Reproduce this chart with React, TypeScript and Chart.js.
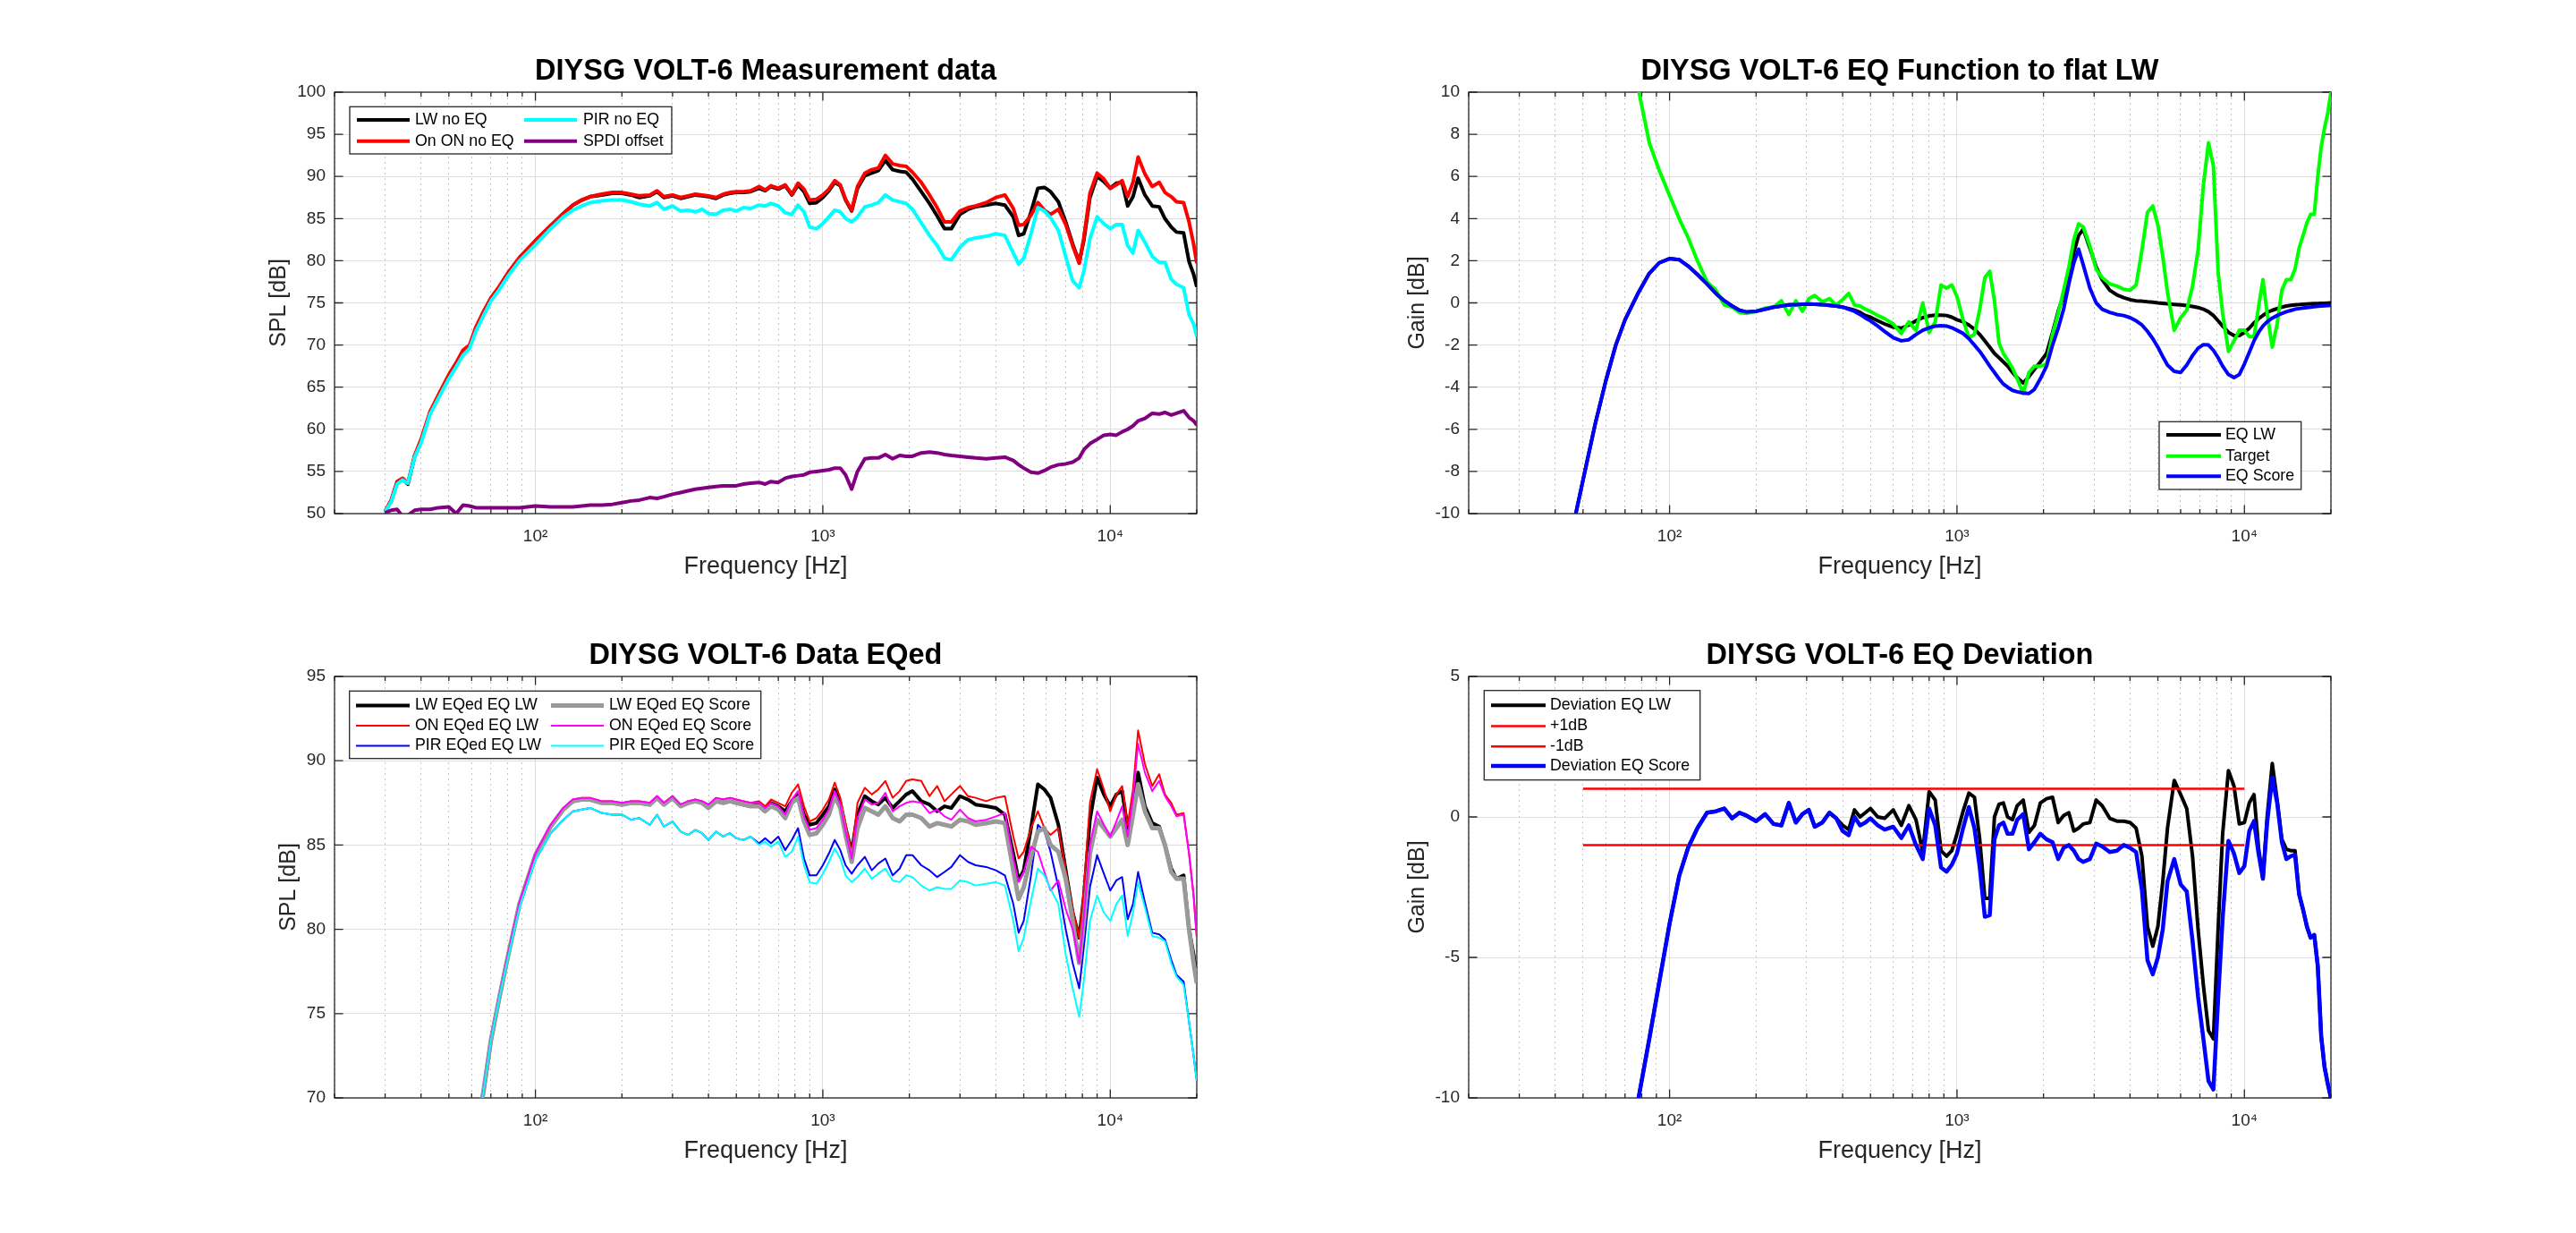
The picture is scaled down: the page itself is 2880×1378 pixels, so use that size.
import React, { useEffect, useRef } from 'react';
import { Chart, registerables } from 'chart.js';

Chart.register(...registerables);

const FONT = "'Liberation Sans', Arial, Helvetica, sans-serif";
const AXIS_COLOR = '#262626';
const GRID_MAJOR = '#dedede';
const GRID_MINOR = '#c4c4c4';

// ---------- frequency grids ----------
const FREQ_A = [
  30, 31.5, 33, 34.5, 36, 38, 40, 43, 46, 50, 53, 56, 59, 62,
  66, 70, 75, 80, 88, 100,
  113, 125, 135, 145, 155, 170, 185, 200,
  215, 230, 250, 265, 280, 300, 320, 340, 360, 380, 400,
  425, 450, 475, 500, 530, 560, 600, 630, 660, 700,
  740, 780, 820, 860, 900, 950, 1000,
  1050, 1100, 1150, 1200, 1260, 1320, 1400, 1480, 1560, 1650,
  1750, 1850, 1950, 2050, 2200, 2350, 2500, 2650, 2800, 3000,
  3200, 3400, 3700, 4000, 4300, 4600, 4800, 5000,
  5300, 5600, 5900, 6200, 6600, 7000, 7400, 7800, 8100, 8500,
  9000, 9500, 10000, 10500, 11000, 11500, 12000, 12500, 13200, 14000,
  14800, 15500, 16300, 17000, 18000, 18800, 19500, 20000,
];

const FREQ_B = [
  45, 50, 55, 60, 65, 70, 78, 85, 92, 100,
  108, 116, 125, 135, 145, 155, 165, 175, 185, 200,
  215, 230, 245, 260, 275, 290, 305, 320, 340, 360,
  380, 400, 420, 440, 460, 480, 500, 530, 560, 600,
  640, 680, 720, 760, 800, 840, 880, 920, 960, 1000,
  1050, 1100, 1150, 1200, 1250, 1300, 1350, 1400, 1450, 1500,
  1560, 1620, 1700, 1780, 1860, 1950, 2050, 2150, 2250, 2350,
  2450, 2550, 2650, 2750, 2900, 3050, 3200, 3400, 3600, 3800,
  4000, 4200, 4400, 4600, 4800, 5000, 5200, 5400, 5700, 6000,
  6300, 6600, 6900, 7200, 7500, 7800, 8100, 8400, 8800, 9200,
  9600, 10000, 10400, 10800, 11200, 11600, 12000, 12500, 13000, 13500,
  14000, 14500, 15000, 15500, 16000, 16500, 17000, 17500, 18000, 18500,
  19000, 19500, 20000,
];

const LIMIT_FREQ = [50, 10000];

// ---------- plot 1: measurement data ----------
const LW_NO_EQ = [
  50.2, 51.5, 53.6, 54.1, 53.5, 56.8, 58.6, 61.9, 63.9, 66.3, 67.6, 69.2, 69.8, 71.9,
  73.8, 75.5, 76.9, 78.4, 80.3, 82.3,
  84.1, 85.6, 86.6, 87.2, 87.6, 87.8, 88.0, 88.0,
  87.8, 87.5, 87.7, 88.2, 87.5, 87.7, 87.4, 87.6, 87.8, 87.7, 87.6,
  87.4, 87.8, 88.0, 88.1, 88.1, 88.2, 88.6, 88.3, 88.8, 88.5,
  88.9, 87.8, 89.0, 88.2, 86.8, 86.9, 87.5,
  88.3, 89.3, 88.9, 87.2, 85.9, 88.6, 90.1, 90.4, 90.7, 91.9,
  90.8, 90.6, 90.5, 89.7, 88.2, 86.8, 85.3, 83.8, 83.8, 85.5,
  86.1, 86.4, 86.6, 86.8, 86.6, 85.2, 83.0, 83.2,
  85.8, 88.6, 88.7, 88.2, 87.0, 84.6, 82.0, 79.8, 82.5, 87.5,
  90.0, 89.4, 88.6, 89.2, 89.3, 86.5, 87.6, 89.8, 87.8, 86.5,
  86.4, 85.0, 84.0, 83.4, 83.3, 79.9, 78.4, 76.9,
];
const ON_NO_EQ = [
  50.3, 51.6, 53.8, 54.2, 53.6, 56.9, 58.8, 62.1, 64.1, 66.5, 67.9, 69.4, 70.0, 72.1,
  74.0, 75.6, 77.0, 78.5, 80.4, 82.4,
  84.2, 85.6, 86.6, 87.2, 87.6, 87.9, 88.1, 88.1,
  87.9, 87.7, 87.8, 88.3, 87.6, 87.8, 87.5, 87.7, 87.9, 87.8, 87.7,
  87.5, 87.9, 88.1, 88.2, 88.2, 88.3, 88.8, 88.4, 88.9, 88.6,
  89.0, 87.9, 89.2, 88.5, 87.2, 87.3, 87.8,
  88.5, 89.5, 89.0, 87.3, 86.0, 88.8, 90.4, 90.8, 91.0, 92.5,
  91.5, 91.3, 91.2, 90.5, 89.3, 87.8, 86.3, 84.6, 84.6, 85.9,
  86.3, 86.5, 86.9, 87.5, 87.8, 86.2, 84.2, 84.3,
  85.4, 86.9, 86.0, 85.5, 86.1, 84.3, 81.8, 79.7, 82.8, 88.0,
  90.4, 89.7, 88.6, 89.0, 89.5, 87.6, 89.3, 92.3, 90.3, 88.8,
  89.3, 88.1, 87.6, 87.0, 86.9, 84.6, 82.0, 79.7,
];
const PIR_NO_EQ = [
  50.2, 51.4, 53.5, 54.0, 53.6, 56.7, 58.4, 61.8, 63.7, 66.0, 67.4, 68.8, 69.6, 71.6,
  73.5, 75.2, 76.6, 78.1, 80.0, 81.9,
  83.8, 85.2, 86.0, 86.5, 86.9, 87.1, 87.2, 87.2,
  87.0, 86.7, 86.5, 86.9, 86.1, 86.5, 85.9, 86.0, 85.8, 86.1, 85.6,
  85.5, 86.0, 86.1, 85.9, 86.3, 86.2, 86.6, 86.5, 86.8, 86.5,
  85.7, 85.5, 86.6, 85.8, 84.0, 83.8, 84.4,
  85.2, 86.0, 85.8, 85.0, 84.6, 85.2, 86.4, 86.6, 86.9, 87.8,
  87.2, 87.0, 86.8, 86.1, 84.5, 83.0, 81.8, 80.3, 80.1, 81.6,
  82.5, 82.7, 82.9, 83.2, 83.0, 80.9, 79.6, 80.3,
  83.2, 86.3, 85.9, 85.1, 83.6, 80.5, 77.6, 76.8, 78.8, 82.6,
  85.2, 84.4, 83.8, 84.3, 84.3, 81.8, 80.9, 83.6, 82.2, 80.5,
  79.8, 79.8, 77.8, 77.2, 76.8, 73.6, 72.5, 71.0,
];
const SPDI_OFFSET = [
  50.1, 50.4, 50.5, 49.7, 49.8, 50.4, 50.5, 50.5, 50.7, 50.8, 50.0, 51.0, 50.9, 50.7,
  50.7, 50.7, 50.7, 50.7, 50.7, 50.9,
  50.8, 50.8, 50.8, 50.9, 51.0, 51.0, 51.1, 51.3,
  51.5, 51.6, 51.9, 51.8, 52.0, 52.3, 52.5, 52.7, 52.9, 53.0, 53.1,
  53.2, 53.3, 53.3, 53.3, 53.5, 53.6, 53.7, 53.5, 53.8, 53.7,
  54.2, 54.4, 54.5, 54.6, 54.9, 55.0, 55.1,
  55.2, 55.4, 55.4, 54.6, 52.9, 55.0, 56.5, 56.6, 56.6, 57.0,
  56.5, 56.9, 56.8, 56.8, 57.2, 57.3, 57.2, 57.0, 56.9, 56.8,
  56.7, 56.6, 56.5, 56.6, 56.7, 56.3, 55.8, 55.4,
  54.9, 54.8, 55.1, 55.5, 55.8, 55.9, 56.1, 56.6, 57.6, 58.3,
  58.8, 59.3, 59.4, 59.3, 59.7, 60.0, 60.4, 61.0, 61.3, 61.9,
  61.8, 62.0, 61.7, 61.9, 62.2, 61.4, 61.0, 60.5,
];

// ---------- plot 2: EQ function ----------
const EQ_LW = [
  -11.3, -8.4, -5.8, -3.7, -2.0, -0.8, 0.5, 1.4, 1.9, 2.1,
  2.05, 1.75, 1.35, 0.9, 0.45, 0.1, -0.15, -0.35, -0.43, -0.4,
  -0.3, -0.2, -0.15, -0.1, -0.08, -0.06, -0.05, -0.06, -0.08, -0.12,
  -0.15, -0.2, -0.27, -0.35, -0.45, -0.6, -0.68, -0.85, -1.0, -1.15,
  -1.2, -1.05, -0.85, -0.7, -0.62, -0.58, -0.58, -0.6, -0.68, -0.8,
  -0.9, -1.05, -1.25, -1.5, -1.8, -2.1, -2.4, -2.6, -2.8, -3.0,
  -3.3, -3.55, -3.8, -3.5, -3.15, -2.8, -2.4, -1.4, -0.4, 0.4,
  1.4, 2.4, 3.2, 3.5, 2.6, 1.7, 1.1, 0.6, 0.38, 0.25,
  0.15, 0.1, 0.08, 0.05, 0.03, 0.0, -0.02, -0.04, -0.07, -0.1,
  -0.13, -0.17, -0.22, -0.3, -0.42, -0.6, -0.85, -1.1, -1.4, -1.55,
  -1.55, -1.4, -1.2, -0.95, -0.75, -0.6, -0.45, -0.35, -0.27, -0.2,
  -0.15, -0.12, -0.1, -0.08, -0.06, -0.05, -0.04, -0.03, -0.03, -0.02,
  -0.02, -0.01, 0.0,
];
const TARGET = [
  null, null, null, null, null, null, 10.1, 7.6, 6.3, 5.1,
  4.0, 3.1, 2.0, 1.0, 0.6, -0.1, -0.2, -0.45, -0.5, -0.4,
  -0.25, -0.2, 0.1, -0.55, 0.1, -0.4, 0.2, 0.35, 0.05, 0.2,
  -0.1, 0.15, 0.45, -0.1, -0.15, -0.3, -0.4, -0.6, -0.75, -1.0,
  -1.45, -0.9, -1.3, 0.0, -1.4, -0.9, 0.85, 0.7, 0.85, 0.3,
  -0.8, -1.65, -1.5, -0.3, 1.2, 1.5, 0.1, -1.9, -2.4, -2.7,
  -3.1, -3.6, -4.3, -3.3, -3.0, -3.0, -2.9, -1.5, -0.5, 0.6,
  1.7, 3.0, 3.75, 3.6, 2.7, 1.6, 1.2, 0.9, 0.8, 0.65,
  0.6, 0.85, 2.5, 4.3, 4.6, 3.7, 2.2, 0.5, -1.3, -0.7,
  -0.35, 0.8, 2.5, 5.6, 7.6, 6.5, 1.5, -0.5, -2.3, -1.8,
  -1.3, -1.3, -1.6, -1.6, -0.2, 1.1, -0.5, -2.1, -1.0, 0.6,
  1.1, 1.1, 1.6, 2.6, 3.2, 3.8, 4.2, 4.2, 6.0, 7.4,
  8.3, 9.0, 10.0,
];
const EQ_SCORE = [
  -11.3, -8.4, -5.8, -3.7, -2.0, -0.8, 0.5, 1.4, 1.9, 2.1,
  2.05, 1.75, 1.35, 0.9, 0.45, 0.1, -0.15, -0.35, -0.43, -0.4,
  -0.3, -0.2, -0.15, -0.1, -0.08, -0.06, -0.05, -0.06, -0.08, -0.12,
  -0.15, -0.2, -0.3, -0.4, -0.55, -0.72, -0.85, -1.1, -1.35, -1.65,
  -1.8, -1.75, -1.5, -1.3, -1.18, -1.1, -1.08, -1.1, -1.18, -1.3,
  -1.45, -1.7, -2.0, -2.3, -2.65, -3.0, -3.3, -3.6, -3.85, -4.0,
  -4.15, -4.22, -4.28, -4.3, -4.1, -3.6, -3.0, -2.0, -1.2, -0.3,
  0.9, 1.9, 2.55, 1.8, 0.7, 0.0, -0.3, -0.45, -0.55, -0.6,
  -0.7, -0.85, -1.05, -1.35, -1.7, -2.1, -2.55, -2.95, -3.25, -3.3,
  -2.95, -2.5, -2.15, -1.98, -2.0, -2.25, -2.6, -3.0, -3.4, -3.55,
  -3.4, -2.9, -2.35, -1.8, -1.4, -1.1, -0.9, -0.72, -0.6, -0.5,
  -0.42, -0.36, -0.3, -0.27, -0.24, -0.22, -0.2, -0.18, -0.16, -0.15,
  -0.14, -0.13, -0.12,
];

// ---------- plot 3: data EQed ----------
const LW_EQ_LW = [
  null, null, null, null, null, null, null, null, null, null, null, null, 65.5, 67.9,
  70.4, 73.4, 76.0, 78.3, 81.5, 84.4,
  86.1, 87.1, 87.6, 87.7, 87.7, 87.5, 87.5, 87.4,
  87.5, 87.5, 87.4, 87.8, 87.4, 87.8, 87.3, 87.5, 87.6, 87.5, 87.2,
  87.6, 87.5, 87.6, 87.5, 87.4, 87.3, 87.4, 87.1, 87.5, 87.3,
  87.0, 87.6, 88.0, 86.8, 86.2, 86.3, 86.8,
  87.3, 88.3, 87.5, 86.0, 84.6, 86.8, 87.9, 87.6, 87.4, 87.8,
  87.2, 87.6, 88.0, 88.2, 87.6, 87.4, 87.0, 87.3, 87.2, 87.9,
  87.7, 87.4, 87.3, 87.2, 86.8, 84.5, 82.9, 83.5,
  86.0, 88.6, 88.3, 87.8, 86.2, 83.5, 81.0, 79.5, 82.0, 86.5,
  89.0, 88.0, 87.3, 88.0, 88.2, 86.0, 87.2, 89.3, 87.3, 86.3,
  86.1, 85.0, 83.6, 83.0, 83.2, 80.0, 78.5, 77.0,
];
const ON_EQ_LW = [
  null, null, null, null, null, null, null, null, null, null, null, null, 65.6, 68.0,
  70.5, 73.5, 76.1, 78.4, 81.6, 84.5,
  86.2, 87.2, 87.7, 87.8, 87.8, 87.6, 87.6, 87.5,
  87.6, 87.6, 87.5, 87.9, 87.5, 87.9, 87.4, 87.6, 87.7, 87.6, 87.4,
  87.8, 87.7, 87.8, 87.7, 87.6, 87.5, 87.6, 87.3, 87.7, 87.5,
  87.3, 88.1, 88.6, 87.3, 86.4, 86.6, 87.1,
  87.7, 88.7, 87.8, 86.3, 84.5, 87.5, 88.4, 88.0, 88.3, 88.8,
  87.8, 88.2, 88.8, 88.9, 88.8, 87.9, 88.5, 87.6, 88.0, 88.5,
  87.9, 87.8, 87.6, 87.8, 87.9, 85.5, 84.2, 84.6,
  86.0, 87.0, 86.0, 85.6, 86.0, 83.5, 81.2, 79.5, 82.5, 87.5,
  89.5, 88.3, 87.0, 88.0, 88.5, 86.2, 88.3, 91.8, 89.8, 88.5,
  89.2, 88.0, 87.5, 86.8, 86.9, 84.5, 82.0, 79.5,
];
const PIR_EQ_LW = [
  null, null, null, null, null, null, null, null, null, null, null, null, 65.5, 67.9,
  70.4, 73.4, 76.0, 78.2, 81.3, 84.1,
  85.7, 86.5, 87.0, 87.1, 87.2, 86.9, 86.8, 86.8,
  86.5, 86.6, 86.2, 86.8, 86.1, 86.4, 85.8, 85.6, 85.9, 85.7, 85.3,
  85.8, 85.5, 85.7, 85.4, 85.3, 85.5, 85.1, 85.4, 85.1, 85.5,
  84.7, 85.3, 86.0, 84.2, 83.2, 83.2, 83.8,
  84.5, 85.3, 84.7, 83.8, 83.3, 83.8, 84.3, 83.5, 83.9, 84.2,
  83.2, 83.6, 84.4, 84.4, 83.8, 83.5, 83.1, 83.4, 83.7, 84.4,
  84.0, 83.8, 83.7, 83.5, 83.2, 81.5, 79.8, 80.5,
  83.2, 86.2, 85.8, 84.6, 82.5, 80.0, 78.0, 76.5, 79.0, 82.5,
  84.4, 83.3, 82.3, 82.9, 83.1, 80.6, 81.5, 83.4, 81.6, 79.8,
  79.7, 79.4, 78.2, 77.3, 76.9, 74.5, 72.5, 71.0,
];
const LW_EQ_SCORE = [
  null, null, null, null, null, null, null, null, null, null, null, null, 65.5, 67.9,
  70.4, 73.4, 76.0, 78.3, 81.5, 84.4,
  86.1, 87.1, 87.6, 87.7, 87.7, 87.5, 87.5, 87.4,
  87.5, 87.5, 87.4, 87.8, 87.4, 87.8, 87.3, 87.5, 87.6, 87.5, 87.2,
  87.6, 87.5, 87.6, 87.5, 87.4, 87.3, 87.3, 87.0, 87.3, 87.1,
  86.6, 87.5, 87.8, 86.4, 85.6, 85.7, 86.2,
  86.8, 87.9, 87.2, 85.6, 84.0, 86.0, 87.2, 87.0, 86.8, 87.3,
  86.6, 86.4, 86.8, 86.8, 86.6, 86.1, 86.3, 86.2, 86.1, 86.5,
  86.4, 86.2, 86.3, 86.4, 86.3, 83.5, 81.8, 82.5,
  84.3, 85.8, 86.0, 85.0, 84.6, 83.0, 80.5, 78.0, 80.5, 84.5,
  86.5, 86.0, 85.5, 86.0, 86.5, 85.0, 86.8, 88.6, 87.0, 86.0,
  86.0, 85.0, 83.4, 83.0, 83.0, 80.0, 78.0, 76.8,
];
const ON_EQ_SCORE = [
  null, null, null, null, null, null, null, null, null, null, null, null, 65.6, 68.0,
  70.5, 73.5, 76.1, 78.4, 81.6, 84.5,
  86.2, 87.2, 87.7, 87.8, 87.8, 87.6, 87.6, 87.5,
  87.6, 87.6, 87.5, 87.9, 87.5, 87.9, 87.4, 87.6, 87.7, 87.6, 87.4,
  87.8, 87.7, 87.8, 87.7, 87.6, 87.5, 87.5, 87.2, 87.5, 87.3,
  86.8, 87.7, 88.2, 86.7, 85.9, 86.0, 86.5,
  87.1, 88.2, 87.4, 85.8, 84.2, 86.6, 87.7, 87.4, 87.5, 88.1,
  87.0, 87.3, 87.5, 87.6, 87.5, 86.9, 87.1, 86.7, 86.5, 87.1,
  86.6, 86.4, 86.5, 86.7, 86.9, 84.2, 82.8, 83.4,
  84.9, 84.6, 83.4, 82.3, 82.9, 81.2, 80.0, 78.0, 80.8, 85.0,
  87.0, 86.2, 85.5, 86.4, 87.3, 85.5, 87.8, 91.0, 89.3, 88.2,
  88.8, 87.9, 87.3, 86.7, 86.8, 84.5, 82.0, 79.5,
];
const PIR_EQ_SCORE = [
  null, null, null, null, null, null, null, null, null, null, null, null, 65.5, 67.9,
  70.4, 73.4, 76.0, 78.2, 81.3, 84.1,
  85.7, 86.5, 87.0, 87.1, 87.2, 86.9, 86.8, 86.8,
  86.5, 86.6, 86.2, 86.8, 86.1, 86.4, 85.8, 85.6, 85.9, 85.7, 85.3,
  85.8, 85.5, 85.7, 85.4, 85.3, 85.5, 85.0, 85.2, 84.9, 85.2,
  84.3, 84.6, 85.5, 83.8, 82.8, 82.7, 83.3,
  84.0, 84.8, 84.2, 83.2, 82.8, 83.1, 83.6, 83.0, 83.3, 83.6,
  82.9, 82.8, 83.2, 83.1, 82.6, 82.3, 82.5, 82.4, 82.4, 82.9,
  82.8, 82.6, 82.7, 82.8, 82.6, 80.5, 78.7, 79.5,
  81.7, 83.6, 83.2, 82.4, 81.5, 78.5, 76.5, 74.8, 77.0, 80.5,
  82.0, 81.0, 80.5, 81.5, 82.0, 79.6, 81.0, 82.8, 81.3, 79.6,
  79.5, 79.3, 78.0, 77.2, 76.7, 74.5, 72.5, 71.0,
];

// ---------- plot 4: EQ deviation ----------
const DEV_EQ_LW = [
  null, null, null, null, null, -12.6, -10.0, -7.9, -5.9, -3.8,
  -2.1, -1.1, -0.4, 0.15, 0.2, 0.3, -0.05, 0.15, 0.05, -0.15,
  0.1, -0.25, -0.3, 0.5, -0.2, 0.1, 0.25, -0.35, -0.2, 0.15,
  -0.05, -0.3, -0.45, 0.25, 0.0, 0.15, 0.3, 0.0, -0.05, 0.25,
  -0.3, 0.4, -0.1, -1.25, 0.9, 0.6, -1.2, -1.4, -1.2, -0.6,
  0.2, 0.85, 0.7, -0.8, -2.9, -2.9, 0.0, 0.45, 0.5, 0.0,
  -0.1, 0.4, 0.6, -0.55, -0.3, 0.5, 0.65, 0.7, -0.2, 0.05,
  0.15, -0.5, -0.4, -0.25, -0.2, 0.6, 0.4, -0.05, -0.15, -0.15,
  -0.2, -0.4, -1.4, -3.9, -4.6, -3.9, -2.3, -0.4, 1.3, 0.8,
  0.3, -1.4, -4.0, -6.0, -7.6, -7.9, -4.0, -0.6, 1.65, 1.1,
  -0.25, -0.2, 0.5, 0.8, -1.1, -2.2, 0.0, 1.9, 0.6, -0.8,
  -1.15, -1.2, -1.2, -2.75, -3.3, -3.9, -4.3, -4.2, -5.3, -7.8,
  -8.9, -9.5, -10.0,
];
const PLUS_1DB = [1, 1];
const MINUS_1DB = [-1, -1];
const DEV_EQ_SCORE = [
  null, null, null, null, null, -12.6, -10.0, -7.9, -5.9, -3.8,
  -2.1, -1.1, -0.4, 0.15, 0.2, 0.3, -0.05, 0.15, 0.05, -0.15,
  0.1, -0.25, -0.3, 0.5, -0.2, 0.1, 0.25, -0.35, -0.2, 0.15,
  -0.05, -0.5, -0.65, 0.0, -0.3, -0.2, -0.05, -0.3, -0.45, -0.35,
  -0.75, -0.3, -1.0, -1.5, 0.3, -0.3, -1.8, -1.95, -1.7, -1.3,
  -0.4, 0.35, -0.4, -1.8, -3.55, -3.5, -0.8, -0.3, -0.2, -0.6,
  -0.6, -0.1, 0.1, -1.15, -0.9, -0.6, -0.8, -0.9, -1.5, -1.1,
  -1.0, -1.2, -1.5, -1.6, -1.5, -0.95, -1.05, -1.25, -1.2, -1.0,
  -1.1, -1.25, -2.6, -5.1, -5.6, -5.0, -4.0, -2.3, -1.5, -2.4,
  -2.65, -4.4, -6.4, -7.9, -9.4, -9.7, -6.5, -3.6, -0.85, -1.3,
  -2.0, -1.75, -0.5, -0.15, -1.3, -2.2, -0.2, 1.4, 0.5, -0.9,
  -1.5, -1.4, -1.35, -2.75, -3.3, -3.9, -4.3, -4.2, -5.3, -7.8,
  -8.9, -9.5, -10.0,
];

// ---------- axes ----------
const X_TICKS = [
  20, 30, 40, 50, 60, 70, 80, 90, 100, 200, 300, 400, 500, 600, 700, 800, 900,
  1000, 2000, 3000, 4000, 5000, 6000, 7000, 8000, 9000, 10000, 20000,
];
const X_MAJOR = [100, 1000, 10000];
const X_TICK_LABELS: Record<number, string> = { 100: '10²', 1000: '10³', 10000: '10⁴' };

// ---------- layout ----------
const CANVAS_W = 1184;
const CANVAS_H = 621;
const Y_AXIS_W = 110;
const X_AXIS_H = 100;
const PAD_RIGHT = 110;

type Series = { label: string; x: number[]; y: (number | null)[]; color: string; width: number };
type Legend = {
  box: [number, number, number, number];
  cols: [number, number, number][];
  rows: number[];
  slots: [number, number][];
};
type Plot = {
  left: number;
  top: number;
  title: string;
  yLabel: string;
  yLabelPad: number;
  yMin: number;
  yMax: number;
  yStep: number;
  series: Series[];
  legend: Legend;
};

const PLOTS: Plot[] = [
  {
    left: 264, top: 53, title: 'DIYSG VOLT-6 Measurement data', yLabel: 'SPL [dB]', yLabelPad: 33,
    yMin: 50, yMax: 100, yStep: 5,
    series: [
      { label: 'LW no EQ', x: FREQ_A, y: LW_NO_EQ, color: '#000000', width: 4 },
      { label: 'On ON no EQ', x: FREQ_A, y: ON_NO_EQ, color: '#ff0000', width: 4 },
      { label: 'PIR no EQ', x: FREQ_A, y: PIR_NO_EQ, color: '#00ffff', width: 4 },
      { label: 'SPDI offset', x: FREQ_A, y: SPDI_OFFSET, color: '#800080', width: 4 },
    ],
    legend: {
      box: [391, 119.3, 751, 172],
      cols: [[399, 458, 464], [586, 645, 652]],
      rows: [134, 157.7],
      slots: [[0, 0], [0, 1], [1, 0], [1, 1]],
    },
  },
  {
    left: 1532, top: 53, title: 'DIYSG VOLT-6 EQ Function to flat LW', yLabel: 'Gain [dB]', yLabelPad: 38,
    yMin: -10, yMax: 10, yStep: 2,
    series: [
      { label: 'EQ LW', x: FREQ_B, y: EQ_LW, color: '#000000', width: 4 },
      { label: 'Target', x: FREQ_B, y: TARGET, color: '#00ff00', width: 4 },
      { label: 'EQ Score', x: FREQ_B, y: EQ_SCORE, color: '#0000ff', width: 4 },
    ],
    legend: {
      box: [2414, 471.3, 2572.7, 547],
      cols: [[2422, 2483, 2488]],
      rows: [486, 509.7, 532.3],
      slots: [[0, 0], [0, 1], [0, 2]],
    },
  },
  {
    left: 264, top: 706, title: 'DIYSG VOLT-6 Data EQed', yLabel: 'SPL [dB]', yLabelPad: 44,
    yMin: 70, yMax: 95, yStep: 5,
    series: [
      { label: 'LW EQed EQ LW', x: FREQ_A, y: LW_EQ_LW, color: '#000000', width: 4 },
      { label: 'ON EQed EQ LW', x: FREQ_A, y: ON_EQ_LW, color: '#ff0000', width: 2 },
      { label: 'PIR EQed EQ LW', x: FREQ_A, y: PIR_EQ_LW, color: '#0000ff', width: 2 },
      { label: 'LW EQed EQ Score', x: FREQ_A, y: LW_EQ_SCORE, color: '#999999', width: 5 },
      { label: 'ON EQed EQ Score', x: FREQ_A, y: ON_EQ_SCORE, color: '#ff00ff', width: 2 },
      { label: 'PIR EQed EQ Score', x: FREQ_A, y: PIR_EQ_SCORE, color: '#00ffff', width: 2 },
    ],
    legend: {
      box: [390.7, 772.3, 850.7, 847.7],
      cols: [[398, 458, 464], [616, 675, 681]],
      rows: [788.5, 811, 833.5],
      slots: [[0, 0], [0, 1], [0, 2], [1, 0], [1, 1], [1, 2]],
    },
  },
  {
    left: 1532, top: 706, title: 'DIYSG VOLT-6 EQ Deviation', yLabel: 'Gain [dB]', yLabelPad: 38,
    yMin: -10, yMax: 5, yStep: 5,
    series: [
      { label: 'Deviation EQ LW', x: FREQ_B, y: DEV_EQ_LW, color: '#000000', width: 4 },
      { label: '+1dB', x: LIMIT_FREQ, y: PLUS_1DB, color: '#ff0000', width: 2.5 },
      { label: '-1dB', x: LIMIT_FREQ, y: MINUS_1DB, color: '#ff0000', width: 2.5 },
      { label: 'Deviation EQ Score', x: FREQ_B, y: DEV_EQ_SCORE, color: '#0000ff', width: 4.5 },
    ],
    legend: {
      box: [1659.3, 771.7, 1900.7, 871.7],
      cols: [[1667, 1728, 1733]],
      rows: [788.3, 811.5, 834.3, 856],
      slots: [[0, 0], [0, 1], [0, 2], [0, 3]],
    },
  },
];

function axesPlugin() {
  return {
    id: 'matlabAxes',
    beforeDatasetsDraw(chart: any) {
      const { ctx, chartArea: a, scales } = chart;
      const xs = scales.x;
      const ys = scales.y;
      ctx.save();
      ctx.strokeStyle = AXIS_COLOR;
      ctx.lineWidth = 1.3;
      ctx.beginPath();
      for (const t of xs.ticks) {
        const px = xs.getPixelForValue(t.value);
        const len = X_MAJOR.includes(t.value) ? 9.6 : 5;
        ctx.moveTo(px, a.bottom);
        ctx.lineTo(px, a.bottom - len);
        ctx.moveTo(px, a.top);
        ctx.lineTo(px, a.top + len);
      }
      for (const t of ys.ticks) {
        const py = ys.getPixelForValue(t.value);
        ctx.moveTo(a.left, py);
        ctx.lineTo(a.left + 9.6, py);
        ctx.moveTo(a.right, py);
        ctx.lineTo(a.right - 9.6, py);
      }
      ctx.stroke();
      ctx.strokeRect(a.left, a.top, a.right - a.left, a.bottom - a.top);
      ctx.restore();
    },
  };
}

function legendPlugin(plot: Plot) {
  return {
    id: 'matlabLegend',
    afterDraw(chart: any) {
      const ctx = chart.ctx;
      const ox = plot.left;
      const oy = plot.top;
      const lg = plot.legend;
      const [x1, y1, x2, y2] = lg.box;
      ctx.save();
      ctx.fillStyle = '#ffffff';
      ctx.fillRect(x1 - ox, y1 - oy, x2 - x1, y2 - y1);
      ctx.strokeStyle = AXIS_COLOR;
      ctx.lineWidth = 1.3;
      ctx.strokeRect(x1 - ox, y1 - oy, x2 - x1, y2 - y1);
      ctx.font = `17.8px ${FONT}`;
      ctx.textBaseline = 'middle';
      ctx.textAlign = 'left';
      lg.slots.forEach(([c, r], i) => {
        const s = plot.series[i];
        const [lx1, lx2, tx] = lg.cols[c];
        const y = lg.rows[r] - oy;
        ctx.strokeStyle = s.color;
        ctx.lineWidth = s.width;
        ctx.beginPath();
        ctx.moveTo(lx1 - ox, y);
        ctx.lineTo(lx2 - ox, y);
        ctx.stroke();
        ctx.fillStyle = '#000000';
        ctx.fillText(s.label, tx - ox, y);
      });
      ctx.restore();
    },
  };
}

function buildConfig(plot: Plot): any {
  return {
    type: 'line',
    data: {
      datasets: plot.series.map((s, i) => ({
        label: s.label,
        data: s.x.map((x, j) => ({ x, y: s.y[j] })),
        borderColor: s.color,
        backgroundColor: s.color,
        borderWidth: s.width,
        pointRadius: 0,
        tension: 0,
        fill: false,
        spanGaps: false,
        borderJoinStyle: 'round',
        borderCapStyle: 'butt',
        order: -i,
      })),
    },
    options: {
      responsive: false,
      animation: false,
      devicePixelRatio: 1,
      events: [],
      layout: { autoPadding: false, padding: { left: 0, top: 0, right: PAD_RIGHT, bottom: 0 } },
      plugins: {
        legend: { display: false },
        tooltip: { enabled: false },
        title: {
          display: true,
          fullSize: false,
          text: plot.title,
          color: '#000000',
          font: { family: FONT, size: 32.5, weight: 'bold', lineHeight: 1.2 },
          padding: { top: 7.5, bottom: 3.5 },
        },
      },
      scales: {
        x: {
          type: 'logarithmic',
          min: 20,
          max: 20000,
          afterBuildTicks: (scale: any) => {
            scale.ticks = X_TICKS.map((v) => ({ value: v, major: false }));
          },
          afterFit: (scale: any) => {
            scale.height = X_AXIS_H;
          },
          ticks: {
            autoSkip: false,
            maxRotation: 0,
            minRotation: 0,
            padding: 14,
            color: AXIS_COLOR,
            font: { family: FONT, size: 19 },
            callback: (v: any) => X_TICK_LABELS[Number(v)] ?? '',
          },
          grid: {
            drawTicks: false,
            lineWidth: 1,
            color: (c: any) => (c.tick && X_MAJOR.includes(c.tick.value) ? GRID_MAJOR : GRID_MINOR),
          },
          border: {
            display: false,
            dash: (c: any) => (c.tick && X_MAJOR.includes(c.tick.value) ? [] : [2, 4]),
          },
          title: {
            display: true,
            text: 'Frequency [Hz]',
            color: AXIS_COLOR,
            font: { family: FONT, size: 27, lineHeight: 1.2 },
            padding: { top: 0, bottom: 23.8 },
          },
        },
        y: {
          type: 'linear',
          min: plot.yMin,
          max: plot.yMax,
          afterFit: (scale: any) => {
            scale.width = Y_AXIS_W;
          },
          ticks: {
            stepSize: plot.yStep,
            padding: 10,
            color: AXIS_COLOR,
            font: { family: FONT, size: 19 },
          },
          grid: { drawTicks: false, lineWidth: 1, color: GRID_MAJOR },
          border: { display: false },
          title: {
            display: true,
            text: plot.yLabel,
            color: AXIS_COLOR,
            font: { family: FONT, size: 25, lineHeight: 1.2 },
            padding: { top: plot.yLabelPad, bottom: 0 },
          },
        },
      },
    },
    plugins: [axesPlugin(), legendPlugin(plot)],
  };
}

function PlotCanvas({ plot }: { plot: Plot }) {
  const ref = useRef<HTMLCanvasElement | null>(null);
  useEffect(() => {
    if (!ref.current) return;
    const chart = new Chart(ref.current, buildConfig(plot));
    return () => chart.destroy();
  }, [plot]);
  return (
    <canvas
      ref={ref}
      width={CANVAS_W}
      height={CANVAS_H}
      style={{ position: 'absolute', left: plot.left, top: plot.top, width: CANVAS_W, height: CANVAS_H }}
    />
  );
}

export default function App() {
  return (
    <div
      style={{
        position: 'fixed',
        left: 0,
        top: 0,
        width: 2880,
        height: 1378,
        background: '#ffffff',
        overflow: 'hidden',
      }}
    >
      {PLOTS.map((p, i) => (
        <PlotCanvas key={i} plot={p} />
      ))}
    </div>
  );
}
